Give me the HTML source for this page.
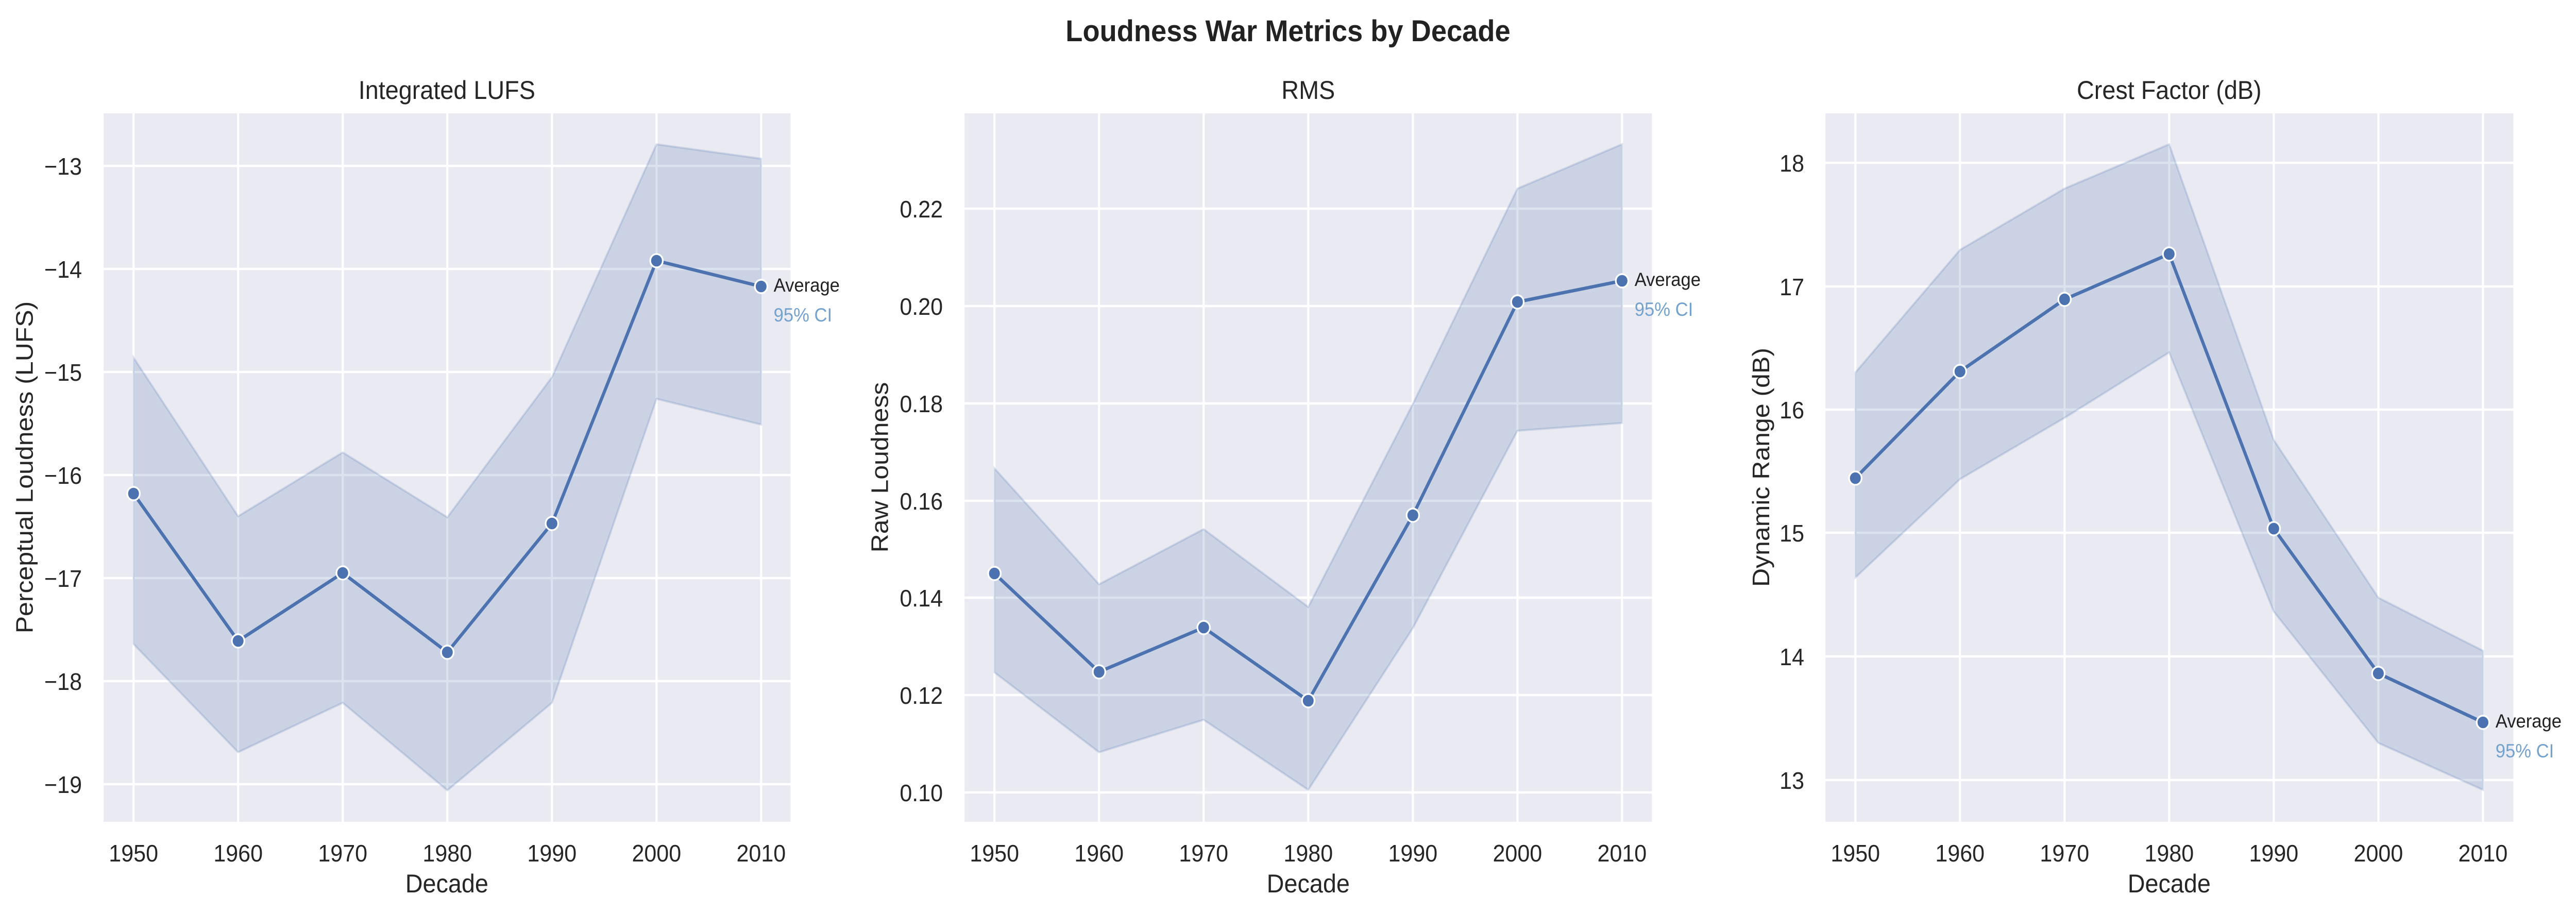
<!DOCTYPE html>
<html><head><meta charset="utf-8"><style>
html,body{margin:0;padding:0;background:#fff;width:100%;height:100%;overflow:hidden;}
svg{display:block;width:100vw;height:100vh;font-family:"Liberation Sans","DejaVu Sans",sans-serif;}
</style></head><body>
<svg viewBox="0 0 5344 1772" preserveAspectRatio="none" xmlns="http://www.w3.org/2000/svg">
<rect width="5344" height="1772" fill="#fff"/>
<text x="2672" y="80" font-size="58" font-weight="bold" text-anchor="middle" fill="#222">Loudness War Metrics by Decade</text>

<!-- Panel 1 -->
<g>
<rect x="215" y="220" width="1425" height="1375" fill="#eaeaf2"/>
<g stroke="#fff" stroke-width="4.5">
<line x1="215" x2="1640" y1="322" y2="322"/><line x1="215" x2="1640" y1="522" y2="522"/><line x1="215" x2="1640" y1="722" y2="722"/><line x1="215" x2="1640" y1="922" y2="922"/><line x1="215" x2="1640" y1="1122" y2="1122"/><line x1="215" x2="1640" y1="1322" y2="1322"/><line x1="215" x2="1640" y1="1522" y2="1522"/>
<line y1="220" y2="1595" x1="277" x2="277"/><line y1="220" y2="1595" x1="494" x2="494"/><line y1="220" y2="1595" x1="711" x2="711"/><line y1="220" y2="1595" x1="928" x2="928"/><line y1="220" y2="1595" x1="1145" x2="1145"/><line y1="220" y2="1595" x1="1362" x2="1362"/><line y1="220" y2="1595" x1="1579" x2="1579"/>
</g>
<polygon points="277,694 494,1002 711,878 928,1004 1145,732 1362,280 1579,308 1579,824 1362,774 1145,1364 928,1534 711,1364 494,1460 277,1250" fill="#4c72b0" fill-opacity="0.2" stroke="#4c72b0" stroke-opacity="0.2" stroke-width="4"/>
<polyline points="277,958 494,1244 711,1112 928,1266 1145,1016 1362,506 1579,556" fill="none" stroke="#4c72b0" stroke-width="6.5" stroke-linejoin="round"/>
<g fill="#4c72b0" stroke="#fff" stroke-width="3.5">
<circle cx="277" cy="958" r="13"/><circle cx="494" cy="1244" r="13"/><circle cx="711" cy="1112" r="13"/><circle cx="928" cy="1266" r="13"/><circle cx="1145" cy="1016" r="13"/><circle cx="1362" cy="506" r="13"/><circle cx="1579" cy="556" r="13"/>
</g>
<text x="1605" y="566" font-size="37" fill="#222">Average</text>
<text x="1605" y="624" font-size="37" fill="#74a2cf">95% CI</text>
<g font-size="46" fill="#262626" text-anchor="end">
<text x="170" y="339">−13</text><text x="170" y="539">−14</text><text x="170" y="739">−15</text><text x="170" y="939">−16</text><text x="170" y="1139">−17</text><text x="170" y="1339">−18</text><text x="170" y="1539">−19</text>
</g>
<g font-size="46" fill="#262626" text-anchor="middle">
<text x="277" y="1672">1950</text><text x="494" y="1672">1960</text><text x="711" y="1672">1970</text><text x="928" y="1672">1980</text><text x="1145" y="1672">1990</text><text x="1362" y="1672">2000</text><text x="1579" y="1672">2010</text>
</g>
<text x="927" y="1732" font-size="50" fill="#262626" text-anchor="middle">Decade</text>
<text x="927" y="192" font-size="50" fill="#262626" text-anchor="middle">Integrated LUFS</text>
<text transform="translate(68,907) rotate(-90)" font-size="50" fill="#262626" text-anchor="middle">Perceptual Loudness (LUFS)</text>
</g>

<!-- Panel 2 -->
<g>
<rect x="2001" y="220" width="1426" height="1375" fill="#eaeaf2"/>
<g stroke="#fff" stroke-width="4.5">
<line x1="2001" x2="3427" y1="405" y2="405"/><line x1="2001" x2="3427" y1="594" y2="594"/><line x1="2001" x2="3427" y1="783" y2="783"/><line x1="2001" x2="3427" y1="972" y2="972"/><line x1="2001" x2="3427" y1="1160" y2="1160"/><line x1="2001" x2="3427" y1="1349" y2="1349"/><line x1="2001" x2="3427" y1="1538" y2="1538"/>
<line y1="220" y2="1595" x1="2063" x2="2063"/><line y1="220" y2="1595" x1="2280" x2="2280"/><line y1="220" y2="1595" x1="2497" x2="2497"/><line y1="220" y2="1595" x1="2714" x2="2714"/><line y1="220" y2="1595" x1="2931" x2="2931"/><line y1="220" y2="1595" x1="3148" x2="3148"/><line y1="220" y2="1595" x1="3365" x2="3365"/>
</g>
<polygon points="2063,909 2280,1134 2497,1027 2714,1178 2931,784 3148,366 3365,280 3365,821 3148,836 2931,1219 2714,1533 2497,1397 2280,1460 2063,1305" fill="#4c72b0" fill-opacity="0.2" stroke="#4c72b0" stroke-opacity="0.2" stroke-width="4"/>
<polyline points="2063,1113 2280,1304 2497,1218 2714,1360 2931,1000 3148,586 3365,545" fill="none" stroke="#4c72b0" stroke-width="6.5" stroke-linejoin="round"/>
<g fill="#4c72b0" stroke="#fff" stroke-width="3.5">
<circle cx="2063" cy="1113" r="13"/><circle cx="2280" cy="1304" r="13"/><circle cx="2497" cy="1218" r="13"/><circle cx="2714" cy="1360" r="13"/><circle cx="2931" cy="1000" r="13"/><circle cx="3148" cy="586" r="13"/><circle cx="3365" cy="545" r="13"/>
</g>
<text x="3391" y="555" font-size="37" fill="#222">Average</text>
<text x="3391" y="613" font-size="37" fill="#74a2cf">95% CI</text>
<g font-size="46" fill="#262626" text-anchor="end">
<text x="1956" y="422">0.22</text><text x="1956" y="611">0.20</text><text x="1956" y="800">0.18</text><text x="1956" y="989">0.16</text><text x="1956" y="1177">0.14</text><text x="1956" y="1366">0.12</text><text x="1956" y="1555">0.10</text>
</g>
<g font-size="46" fill="#262626" text-anchor="middle">
<text x="2063" y="1672">1950</text><text x="2280" y="1672">1960</text><text x="2497" y="1672">1970</text><text x="2714" y="1672">1980</text><text x="2931" y="1672">1990</text><text x="3148" y="1672">2000</text><text x="3365" y="1672">2010</text>
</g>
<text x="2714" y="1732" font-size="50" fill="#262626" text-anchor="middle">Decade</text>
<text x="2714" y="192" font-size="50" fill="#262626" text-anchor="middle">RMS</text>
<text transform="translate(1842,907) rotate(-90)" font-size="50" fill="#262626" text-anchor="middle">Raw Loudness</text>
</g>

<!-- Panel 3 -->
<g>
<rect x="3787" y="220" width="1427" height="1375" fill="#eaeaf2"/>
<g stroke="#fff" stroke-width="4.5">
<line x1="3787" x2="5214" y1="316" y2="316"/><line x1="3787" x2="5214" y1="556" y2="556"/><line x1="3787" x2="5214" y1="795" y2="795"/><line x1="3787" x2="5214" y1="1034" y2="1034"/><line x1="3787" x2="5214" y1="1274" y2="1274"/><line x1="3787" x2="5214" y1="1514" y2="1514"/>
<line y1="220" y2="1595" x1="3849" x2="3849"/><line y1="220" y2="1595" x1="4066" x2="4066"/><line y1="220" y2="1595" x1="4283" x2="4283"/><line y1="220" y2="1595" x1="4500" x2="4500"/><line y1="220" y2="1595" x1="4717" x2="4717"/><line y1="220" y2="1595" x1="4934" x2="4934"/><line y1="220" y2="1595" x1="5151" x2="5151"/>
</g>
<polygon points="3849,723 4066,485 4283,366 4500,280 4717,854 4934,1160 5151,1263 5151,1533 4934,1442 4717,1187 4500,684 4283,811 4066,930 3849,1121" fill="#4c72b0" fill-opacity="0.2" stroke="#4c72b0" stroke-opacity="0.2" stroke-width="4"/>
<polyline points="3849,928 4066,721 4283,581 4500,493 4717,1026 4934,1307 5151,1402" fill="none" stroke="#4c72b0" stroke-width="6.5" stroke-linejoin="round"/>
<g fill="#4c72b0" stroke="#fff" stroke-width="3.5">
<circle cx="3849" cy="928" r="13"/><circle cx="4066" cy="721" r="13"/><circle cx="4283" cy="581" r="13"/><circle cx="4500" cy="493" r="13"/><circle cx="4717" cy="1026" r="13"/><circle cx="4934" cy="1307" r="13"/><circle cx="5151" cy="1402" r="13"/>
</g>
<text x="5177" y="1412" font-size="37" fill="#222">Average</text>
<text x="5177" y="1470" font-size="37" fill="#74a2cf">95% CI</text>
<g font-size="46" fill="#262626" text-anchor="end">
<text x="3743" y="333">18</text><text x="3743" y="573">17</text><text x="3743" y="812">16</text><text x="3743" y="1051">15</text><text x="3743" y="1291">14</text><text x="3743" y="1531">13</text>
</g>
<g font-size="46" fill="#262626" text-anchor="middle">
<text x="3849" y="1672">1950</text><text x="4066" y="1672">1960</text><text x="4283" y="1672">1970</text><text x="4500" y="1672">1980</text><text x="4717" y="1672">1990</text><text x="4934" y="1672">2000</text><text x="5151" y="1672">2010</text>
</g>
<text x="4500" y="1732" font-size="50" fill="#262626" text-anchor="middle">Decade</text>
<text x="4500" y="192" font-size="50" fill="#262626" text-anchor="middle">Crest Factor (dB)</text>
<text transform="translate(3670,907) rotate(-90)" font-size="50" fill="#262626" text-anchor="middle">Dynamic Range (dB)</text>
</g>
</svg>
</body></html>
